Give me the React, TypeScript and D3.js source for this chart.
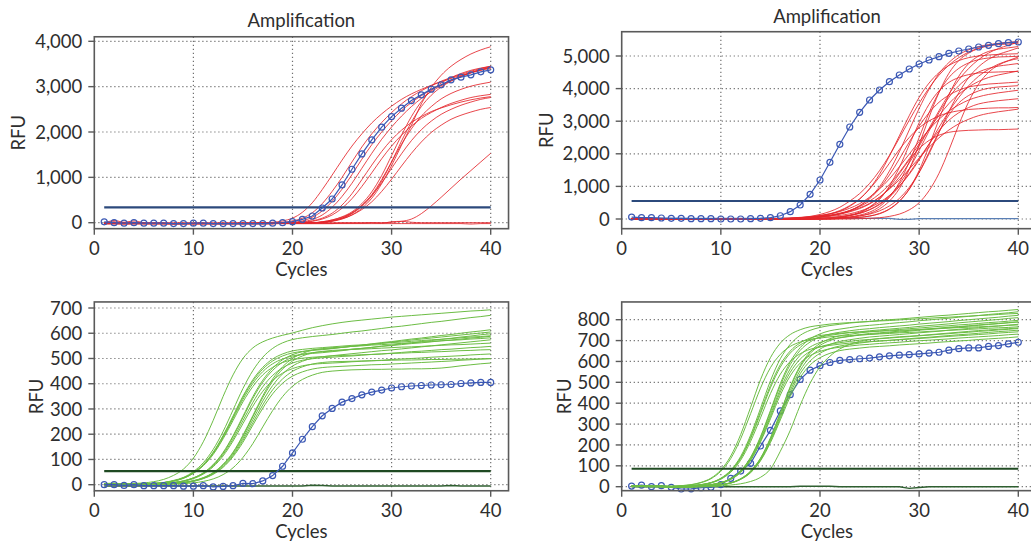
import * as d3 from "d3";

// ---- shared axis data ----
const cycles = [1, 2, 3, 4, 5, 6, 7, 8, 9, 10, 11, 12, 13, 14, 15, 16, 17, 18, 19, 20,
  21, 22, 23, 24, 25, 26, 27, 28, 29, 30, 31, 32, 33, 34, 35, 36, 37, 38, 39, 40];
const cycleTicks = [0, 10, 20, 30, 40];
const rfuTicksTL = [0, 1000, 2000, 3000, 4000];
const rfuTicksTR = [0, 1000, 2000, 3000, 4000, 5000];
const rfuTicksBL = [0, 100, 200, 300, 400, 500, 600, 700];
const rfuTicksBR = [0, 100, 200, 300, 400, 500, 600, 700, 800];
const thresholdTL = 340;
const thresholdTR = 552;
const thresholdBL = 54;
const thresholdBR = 86;
const titleText = "Amplification";

// ---- top left: red wells + blue control ----
const blueTL = [20, 0, -10, 0, -10, -10, -10, -20, -20, -10, -10, -20, -20, -20, -20, -20, -20, -10, 0, 22,
  75, 148, 324, 523, 832, 1179, 1517, 1826, 2106, 2340, 2525, 2693, 2819, 2945, 3040, 3150, 3210, 3260, 3327, 3370];
const redTL = [
  [-20, 50, 10, 40, 0, -10, -10, -20, -20, -10, -10, -20, -20, -10, -10, -10, 0, 10, 40, 100,
    230, 440, 730, 1050, 1380, 1690, 1960, 2200, 2400, 2570, 2720, 2840, 2940, 3030, 3110, 3180, 3250, 3310, 3370, 3420],
  [0, 20, 0, 10, -10, -10, -10, -20, -20, -20, -20, -20, -20, -20, -10, -10, 0, 0, 10, 40,
    100, 220, 420, 690, 1000, 1340, 1670, 1960, 2210, 2430, 2620, 2780, 2910, 3020, 3120, 3200, 3270, 3340, 3400, 3450],
  [-10, 10, -10, 0, -20, -20, -20, -20, -20, -20, -20, -20, -20, -20, -20, -10, -10, 0, 0, 10,
    40, 120, 260, 470, 740, 1060, 1400, 1720, 2000, 2250, 2470, 2650, 2800, 2930, 3040, 3140, 3230, 3310, 3370, 3430],
  [-10, 0, -10, 0, -10, -10, -20, -20, -20, -20, -20, -20, -20, -20, -20, -20, -10, -10, 0, 0,
    20, 70, 170, 340, 580, 870, 1200, 1530, 1840, 2110, 2350, 2560, 2740, 2890, 3020, 3130, 3230, 3310, 3380, 3440],
  [-20, -10, -10, -10, -20, -20, -20, -20, -20, -20, -20, -20, -20, -20, -20, -20, -20, -10, -10, 0,
    10, 40, 100, 210, 390, 640, 950, 1270, 1570, 1830, 2040, 2210, 2340, 2450, 2530, 2600, 2660, 2710, 2750, 2780],
  [-10, -10, -20, -20, -20, -20, -20, -20, -20, -20, -20, -20, -20, -20, -20, -20, -20, -20, -10, -10,
    0, 30, 80, 170, 320, 530, 800, 1100, 1410, 1690, 1930, 2130, 2300, 2430, 2540, 2630, 2700, 2760, 2800, 2830],
  [-20, -20, -20, -20, -20, -20, -20, -20, -20, -20, -20, -20, -20, -20, -20, -20, -20, -20, -10, -10,
    0, 0, 20, 60, 130, 240, 420, 680, 1040, 1480, 1930, 2340, 2670, 2910, 3080, 3200, 3290, 3360, 3410, 3450],
  [-20, -20, -20, -20, -20, -20, -20, -20, -20, -20, -20, -20, -20, -20, -20, -20, -20, -20, -10, -10,
    0, 0, 10, 40, 100, 200, 360, 590, 920, 1340, 1800, 2220, 2560, 2810, 2990, 3120, 3220, 3300, 3360, 3400],
  [-20, -20, -20, -20, -20, -20, -20, -20, -20, -20, -20, -20, -20, -20, -20, -20, -20, -20, -10, -10,
    0, 0, 10, 40, 100, 210, 380, 620, 950, 1340, 1730, 2070, 2350, 2560, 2730, 2850, 2940, 3010, 3060, 3100],
  [-20, -20, -20, -20, -20, -20, -20, -20, -20, -20, -20, -20, -20, -20, -20, -20, -20, -20, -10, -10,
    0, 0, 0, 30, 80, 170, 320, 540, 860, 1260, 1710, 2150, 2620, 2980, 3250, 3450, 3600, 3720, 3810, 3880],
  [-20, -20, -20, -20, -20, -20, -20, -20, -20, -20, -20, -20, -20, -20, -20, -20, -20, -20, -10, -10,
    0, 0, 20, 60, 120, 220, 380, 600, 880, 1200, 1520, 1810, 2050, 2240, 2390, 2500, 2590, 2660, 2720, 2760],
  [-20, -20, -20, -20, -20, -20, -20, -20, -20, -20, -20, -20, -20, -20, -20, -20, -20, -20, -10, -10,
    0, 0, 10, 40, 90, 170, 290, 460, 690, 960, 1250, 1530, 1780, 1990, 2150, 2280, 2370, 2440, 2500, 2540],
  [-20, -20, -20, -20, -20, -20, -20, -20, -20, -20, -20, -20, -20, -20, -20, -20, -20, -20, -20, -20,
    -20, -20, -20, -20, -10, -10, -10, 0, 0, 10, 30, 80, 200, 370, 560, 760, 960, 1150, 1340, 1530],
  [-20, -20, -30, -20, -20, -20, -20, -30, -20, -20, -20, -20, -20, -20, -20, -20, -20, -20, -20, -20,
    -20, -20, -20, -20, -20, -20, -20, -20, -20, -20, -20, -20, -20, -20, -20, -20, -20, -30, -20, -20],
  [0, 0, 0, 0, 0, 0, 0, 0, 0, 0, 0, 0, 0, 0, 0, 0, 0, 0, 0, 0,
    0, 0, 0, 0, 0, 0, 0, 0, -10, 20, 30, 10, 0, 0, 0, 0, 0, 0, 0, 0],
];

// ---- top right ----
const blueTR = [60, 40, 40, 30, 20, 20, 10, 10, 10, 0, 0, 0, 10, 20, 40, 100, 225, 430, 757, 1196,
  1739, 2291, 2822, 3273, 3650, 3957, 4212, 4417, 4601, 4755, 4877, 4980, 5082, 5153, 5215, 5276, 5328, 5378, 5408, 5429];
const ntcTR = [20, 20, 20, 20, 20, 20, 20, 20, 20, 20, 20, 20, 20, 20, 20, 20, 20, 20, 20, 20,
  20, 20, 20, 20, 20, 20, 20, -10, -10, 10, 10, 10, 10, 10, 10, 10, 10, 10, 10, 10];
const redTR = [
  [0, 0, 0, 0, 0, 0, 0, 0, 0, 0, 0, 0, 0, 0, 0, 10, 20, 40, 80, 140,
    230, 360, 550, 780, 1090, 1480, 1950, 2480, 3030, 3550, 4020, 4410, 4720, 4950, 5120, 5240, 5320, 5380, 5420, 5440],
  [0, 0, 0, 0, 0, 0, 0, 0, 0, 0, 0, 0, 0, 0, 0, 0, 10, 20, 40, 60,
    100, 160, 260, 410, 650, 990, 1470, 2060, 2730, 3390, 3980, 4460, 4800, 5040, 5190, 5290, 5350, 5390, 5410, 5430],
  [0, 0, 0, 0, 0, 0, 0, 0, 0, 0, 0, 0, 0, 0, 0, 0, 0, 0, 0, 0,
    10, 30, 50, 90, 170, 310, 550, 930, 1520, 2280, 3120, 3880, 4470, 4860, 5090, 5230, 5310, 5350, 5370, 5390],
  [0, 0, 0, 0, 0, 0, 0, 0, 0, 0, 0, 0, 0, 0, 0, 0, 10, 20, 40, 70,
    100, 150, 220, 320, 460, 660, 930, 1280, 1720, 2230, 2780, 3320, 3830, 4270, 4620, 4890, 5090, 5230, 5330, 5430],
  [0, 0, 0, 0, 0, 0, 0, 0, 0, 0, 0, 0, 0, 0, 0, 0, 0, 0, 0, 0,
    0, 10, 30, 50, 90, 160, 300, 540, 920, 1490, 2240, 3060, 3810, 4380, 4770, 5000, 5140, 5210, 5250, 5290],
  [0, 0, 0, 0, 0, 0, 0, 0, 0, 0, 0, 0, 0, 0, 0, 0, 0, 0, 0, 10,
    20, 40, 60, 100, 150, 250, 400, 630, 970, 1430, 2000, 2650, 3300, 3870, 4340, 4670, 4900, 5050, 5150, 5250],
  [0, 0, 0, 0, 0, 0, 0, 0, 0, 0, 0, 0, 0, 0, 0, 10, 20, 30, 60, 90,
    150, 240, 390, 610, 930, 1370, 1930, 2550, 3170, 3730, 4170, 4490, 4710, 4860, 4950, 5000, 5030, 5050, 5060, 5070],
  [0, 0, 0, 0, 0, 0, 0, 0, 0, 0, 0, 0, 0, 0, 0, 0, 0, 0, 0, 0,
    20, 30, 60, 120, 210, 380, 670, 1120, 1750, 2500, 3260, 3890, 4340, 4620, 4790, 4890, 4940, 4970, 4980, 4990],
  [0, 0, 0, 0, 0, 0, 0, 0, 0, 0, 0, 0, 0, 0, 0, 0, 10, 20, 30, 50,
    80, 110, 160, 240, 350, 510, 720, 1010, 1370, 1810, 2300, 2810, 3300, 3730, 4090, 4380, 4590, 4750, 4860, 4970],
  [0, 0, 0, 0, 0, 0, 0, 0, 0, 0, 0, 0, 0, 0, 0, 0, 0, 0, 10, 20,
    40, 70, 110, 180, 290, 460, 710, 1070, 1540, 2100, 2700, 3260, 3730, 4090, 4340, 4510, 4620, 4690, 4730, 4770],
  [0, 0, 0, 0, 0, 0, 0, 0, 0, 0, 0, 0, 0, 0, 0, 0, 0, 0, 0, 20,
    30, 50, 100, 190, 350, 600, 1010, 1580, 2270, 2950, 3520, 3930, 4190, 4340, 4430, 4480, 4500, 4510, 4520, 4530],
  [0, 0, 0, 0, 0, 0, 0, 0, 0, 0, 0, 0, 0, 0, 0, 0, 20, 30, 50, 80,
    120, 180, 260, 380, 550, 770, 1060, 1430, 1850, 2300, 2760, 3170, 3540, 3830, 4050, 4220, 4340, 4420, 4480, 4540],
  [0, 0, 0, 0, 0, 0, 0, 0, 0, 0, 0, 0, 0, 0, 0, 0, 10, 20, 40, 60,
    100, 160, 250, 400, 620, 940, 1350, 1840, 2360, 2850, 3260, 3580, 3800, 3950, 4050, 4100, 4140, 4160, 4180, 4200],
  [0, 0, 0, 0, 0, 0, 0, 0, 0, 0, 0, 0, 0, 0, 0, 0, 0, 0, 0, 0,
    0, 20, 30, 50, 90, 170, 310, 550, 910, 1430, 2050, 2670, 3190, 3560, 3790, 3930, 4010, 4050, 4070, 4090],
  [0, 0, 0, 0, 0, 0, 0, 0, 0, 0, 0, 0, 0, 0, 0, 20, 30, 50, 70, 110,
    160, 230, 330, 470, 670, 920, 1230, 1600, 1990, 2380, 2740, 3060, 3310, 3500, 3650, 3750, 3820, 3870, 3910, 3950],
  [0, 0, 0, 0, 0, 0, 0, 0, 0, 0, 0, 0, 0, 0, 0, 0, 0, 0, 10, 20,
    40, 70, 110, 170, 280, 440, 670, 1000, 1400, 1850, 2300, 2710, 3030, 3260, 3420, 3530, 3590, 3630, 3660, 3690],
  [0, 0, 0, 0, 0, 0, 0, 0, 0, 0, 0, 0, 0, 0, 10, 20, 20, 40, 60, 100,
    160, 260, 410, 620, 920, 1290, 1710, 2130, 2500, 2800, 3010, 3160, 3260, 3320, 3360, 3380, 3400, 3410, 3410, 3420],
  [0, 0, 0, 0, 0, 0, 0, 0, 0, 0, 0, 0, 0, 0, 0, 0, 20, 30, 50, 80,
    110, 160, 240, 340, 480, 670, 920, 1200, 1530, 1870, 2200, 2490, 2730, 2920, 3060, 3170, 3240, 3290, 3330, 3370],
  [0, 0, 0, 0, 0, 0, 0, 0, 0, 0, 0, 0, 0, 0, 0, 0, 0, 0, 10, 20,
    30, 60, 120, 210, 370, 620, 970, 1390, 1810, 2160, 2410, 2570, 2660, 2700, 2720, 2730, 2740, 2740, 2750, 2760],
  [0, 0, 0, 0, 0, 0, 0, 0, 0, 0, 0, 0, 0, 0, 0, 0, 0, 0, 0, 0,
    0, 0, 0, 10, 20, 40, 80, 150, 280, 500, 870, 1400, 2110, 2890, 3600, 4140, 4500, 4720, 4850, 4920],
];

// ---- bottom left: green wells ----
const blueBL = [0, 0, -3, 0, -4, -4, -4, -4, -6, -6, -4, -9, -7, -4, 5, 4, 15, 36, 73, 126,
  180, 230, 273, 302, 327, 341, 356, 367, 375, 383, 388, 391, 393, 395, 396, 397, 401, 403, 405, 405];
const ntcBL = [-5, -5, -5, -5, -5, -5, -5, -5, -5, -5, -5, -5, -5, -5, -5, -5, -5, -5, -5, -5,
  -5, -2, -3, -5, -5, -5, -5, -5, -5, -5, -5, -5, -5, -5, -5, -3, -5, -5, -5, -5];
const greenBL = [
  [4, 6, 3, 5, 7, 12, 21, 37, 62, 105, 170, 255, 350, 435, 500, 542, 566, 581, 592, 601,
    612, 622, 630, 637, 643, 648, 652, 656, 660, 664, 667, 670, 673, 676, 679, 682, 685, 688, 690, 693],
  [2, 5, 4, 3, 4, 5, 9, 17, 29, 52, 87, 140, 211, 296, 381, 452, 505, 540, 562, 575,
    582, 587, 591, 595, 600, 605, 609, 614, 619, 624, 628, 633, 638, 643, 647, 652, 657, 662, 666, 671],
  [3, 2, 4, 1, 3, 5, 8, 15, 27, 47, 79, 127, 192, 268, 346, 410, 458, 490, 510, 522,
    528, 532, 535, 539, 544, 548, 553, 558, 563, 567, 572, 577, 581, 586, 591, 595, 600, 605, 609, 614],
  [1, 3, 2, 4, 2, 3, 5, 9, 15, 27, 47, 80, 128, 194, 271, 349, 414, 462, 495, 515,
    527, 534, 537, 540, 544, 548, 552, 556, 560, 565, 569, 573, 577, 581, 585, 589, 593, 597, 601, 605],
  [4, 3, 1, 2, 3, 5, 8, 15, 26, 46, 77, 124, 187, 262, 338, 401, 448, 479, 498, 510,
    516, 520, 523, 527, 531, 536, 540, 544, 549, 553, 558, 562, 567, 571, 576, 580, 585, 589, 594, 598],
  [2, 1, 3, 0, 2, 3, 5, 9, 15, 27, 46, 78, 125, 190, 266, 342, 406, 453, 485, 505,
    517, 523, 527, 529, 533, 537, 540, 544, 548, 551, 555, 559, 562, 566, 570, 573, 577, 581, 584, 588],
  [3, 2, 1, 2, 0, 1, 3, 5, 9, 16, 28, 48, 81, 129, 196, 274, 352, 419, 467, 500,
    520, 533, 539, 543, 545, 548, 550, 553, 555, 557, 560, 562, 565, 567, 570, 572, 574, 577, 579, 582],
  [5, 3, 2, 3, 2, 4, 8, 14, 25, 45, 75, 120, 182, 254, 328, 389, 435, 465, 484, 495,
    501, 505, 507, 511, 515, 519, 523, 527, 531, 534, 538, 542, 546, 550, 554, 558, 562, 566, 570, 574],
  [2, 4, 2, 1, 1, 2, 3, 5, 9, 15, 27, 47, 79, 126, 192, 269, 345, 410, 458, 490,
    510, 522, 528, 532, 534, 536, 537, 539, 541, 543, 545, 546, 548, 550, 552, 554, 555, 557, 559, 561],
  [3, 1, 2, 2, 1, 2, 4, 8, 14, 26, 44, 75, 120, 181, 254, 326, 388, 433, 463, 482,
    493, 499, 503, 505, 508, 510, 513, 516, 518, 521, 524, 527, 529, 532, 535, 537, 540, 543, 545, 548],
  [1, 2, 3, 1, 2, 1, 2, 5, 8, 15, 26, 45, 76, 121, 184, 258, 331, 393, 439, 470,
    489, 501, 507, 510, 512, 513, 515, 516, 518, 520, 521, 523, 524, 526, 527, 529, 531, 532, 534, 535],
  [2, 2, 1, 0, 1, 2, 4, 8, 13, 24, 42, 71, 114, 173, 242, 311, 370, 413, 442, 460,
    471, 477, 480, 482, 484, 487, 489, 491, 493, 496, 498, 500, 502, 505, 507, 509, 511, 514, 516, 518],
  [1, 0, 2, 1, 0, 1, 2, 4, 8, 14, 25, 43, 72, 116, 176, 246, 316, 376, 419, 449,
    467, 478, 484, 487, 488, 489, 490, 491, 492, 493, 494, 494, 495, 496, 496, 497, 497, 498, 498, 499],
  [0, 1, 0, 2, 1, 0, 1, 2, 4, 7, 13, 23, 40, 67, 108, 163, 229, 294, 349, 390,
    417, 434, 445, 450, 453, 455, 456, 457, 457, 458, 458, 459, 459, 460, 462, 466, 471, 475, 479, 482],
  [2, 1, 0, 1, 2, 1, 2, 4, 8, 13, 24, 41, 69, 111, 168, 236, 303, 360, 402, 430,
    447, 458, 464, 467, 469, 471, 473, 475, 476, 478, 480, 482, 484, 486, 488, 490, 493, 495, 498, 500],
  [3, 4, 2, 3, 2, 5, 8, 15, 27, 48, 80, 129, 195, 272, 351, 416, 465, 498, 518, 530,
    536, 540, 543, 546, 549, 552, 554, 557, 560, 563, 565, 568, 571, 574, 576, 579, 582, 585, 587, 590],
];

// ---- bottom right ----
const blueBR = [3, 8, 0, 5, -3, -11, -10, -5, -3, 10, 40, 75, 112, 195, 270, 363, 441, 514, 558, 580,
  595, 605, 609, 613, 616, 622, 627, 630, 633, 636, 640, 644, 654, 661, 665, 665, 672, 676, 684, 692];
const ntcBR = [0, 0, 0, 0, 0, 0, 0, 0, 0, 0, 0, 0, 0, 0, 0, 0, 0, 2, 2, 2,
  2, 0, 0, 0, 0, 0, 0, 0, -8, -4, 0, 0, 0, 0, 0, 0, 0, 0, 0, 0];
const greenBR = [
  [2, 5, 3, 4, 1, 2, 5, 10, 20, 41, 79, 145, 247, 375, 507, 613, 682, 725, 749, 763,
    772, 778, 784, 788, 792, 796, 800, 803, 807, 811, 815, 819, 822, 826, 830, 834, 838, 841, 845, 849],
  [3, 1, 4, 2, 0, 1, 2, 5, 10, 20, 39, 77, 141, 240, 365, 494, 598, 666, 708, 732,
    747, 755, 762, 769, 773, 777, 782, 786, 790, 795, 799, 803, 807, 812, 816, 820, 825, 829, 833, 838],
  [1, 3, 0, 2, -2, 0, 2, 5, 10, 19, 39, 75, 138, 235, 358, 484, 585, 653, 693, 717,
    731, 740, 747, 753, 757, 762, 766, 770, 774, 779, 783, 787, 791, 796, 800, 804, 808, 812, 817, 821],
  [4, 2, 1, 3, 0, 2, 5, 9, 19, 38, 74, 135, 230, 350, 474, 573, 640, 679, 702, 716,
    725, 732, 738, 742, 747, 751, 755, 759, 763, 768, 772, 776, 780, 785, 789, 793, 797, 801, 806, 810],
  [2, 0, 3, 1, -1, -2, 0, 2, 5, 10, 19, 38, 75, 137, 234, 355, 480, 580, 646, 686,
    709, 723, 730, 737, 742, 746, 750, 753, 757, 760, 764, 768, 771, 775, 778, 782, 786, 789, 793, 797],
  [3, 2, 1, 2, -1, -1, 2, 5, 9, 19, 37, 72, 133, 227, 345, 467, 565, 630, 669, 691,
    705, 713, 720, 726, 730, 734, 738, 741, 745, 750, 753, 757, 761, 765, 769, 773, 777, 781, 785, 789],
  [1, 3, 2, 0, -2, -3, -1, 2, 5, 9, 18, 37, 71, 131, 224, 340, 460, 557, 621, 659,
    682, 696, 704, 711, 717, 721, 725, 729, 733, 737, 741, 745, 750, 754, 758, 762, 766, 770, 774, 778],
  [4, 3, 2, 3, 2, 5, 9, 19, 38, 74, 135, 230, 350, 472, 570, 634, 672, 693, 706, 712,
    718, 722, 724, 727, 729, 732, 734, 737, 739, 741, 744, 746, 749, 751, 754, 756, 759, 761, 763, 766],
  [2, 1, 0, 2, -1, 0, 2, 5, 9, 18, 36, 70, 129, 220, 335, 454, 548, 611, 648, 670,
    682, 690, 696, 702, 705, 709, 712, 716, 719, 723, 726, 730, 733, 737, 740, 744, 747, 751, 754, 758],
  [0, 2, 1, -1, -2, -2, 0, 2, 4, 9, 18, 36, 69, 127, 217, 330, 447, 541, 602, 639,
    661, 674, 681, 688, 694, 698, 701, 705, 709, 713, 716, 720, 724, 728, 731, 735, 739, 743, 746, 750],
  [3, 3, 1, 2, 0, 2, 4, 9, 18, 36, 69, 127, 217, 330, 446, 539, 600, 637, 658, 670,
    677, 683, 688, 692, 695, 698, 701, 704, 707, 710, 713, 717, 720, 723, 726, 729, 732, 736, 739, 742],
  [1, 2, 2, 0, -1, 1, 2, 4, 9, 18, 35, 68, 125, 214, 325, 439, 531, 592, 628, 648,
    661, 668, 674, 679, 682, 686, 689, 692, 696, 699, 702, 705, 708, 712, 715, 718, 721, 724, 728, 731],
  [2, 1, 0, 1, -2, -3, -1, 2, 4, 9, 17, 35, 67, 124, 211, 320, 432, 523, 583, 618,
    639, 652, 659, 664, 669, 672, 675, 679, 682, 685, 688, 692, 695, 698, 701, 705, 708, 711, 714, 718],
  [3, 5, 4, 2, 3, 5, 10, 21, 41, 80, 147, 250, 380, 513, 618, 688, 729, 752, 766, 773,
    779, 783, 786, 789, 791, 794, 796, 799, 802, 804, 807, 810, 812, 815, 817, 820, 822, 825, 828, 830],
  [1, 0, 2, 1, -1, -2, 0, 2, 5, 9, 19, 38, 74, 135, 230, 350, 474, 573, 638, 677,
    700, 714, 721, 728, 734, 737, 741, 745, 749, 752, 756, 760, 764, 767, 771, 775, 779, 782, 786, 790],
  [2, 4, 3, 1, 1, 2, 5, 10, 19, 39, 76, 139, 237, 360, 485, 585, 650, 689, 712, 724,
    730, 735, 739, 741, 743, 745, 747, 749, 751, 753, 756, 758, 760, 762, 764, 766, 768, 770, 773, 775],
  [0, 1, 0, -1, -2, -3, -2, -1, 0, 3, 8, 14, 25, 45, 85, 170, 270, 390, 495, 575,
    625, 660, 682, 696, 704, 710, 714, 718, 721, 724, 728, 732, 736, 740, 744, 748, 751, 754, 757, 760],
];

const FONT = "Lato, 'Open Sans', sans-serif";
const TEXT = "#2e2e2e";
const BLUE = "#3b58b4";
const FS = 18.5;

type PanelCfg = {
  px0: number; px40: number; xMax: number;
  pyZero: number; pyTick: number; tickVal: number; yMin: number; yMax: number;
  yTicks: number[];
  curves: number[][]; curveColor: string; curveOpacity: number;
  blue: number[]; blueOnTop: boolean;
  ntc?: number[]; ntcColor?: string;
  threshold: number; thresholdColor: string;
  titleY?: number; rfuX: number;
};

function Panel({ c }: { c: PanelCfg }) {
  const x = d3.scaleLinear().domain([0, 40]).range([c.px0, c.px40]);
  const y = d3.scaleLinear().domain([0, c.tickVal]).range([c.pyZero, c.pyTick]);
  const left = x(0), right = x(c.xMax), top = y(c.yMax), bottom = y(c.yMin);
  const smooth = d3.line<number>().x((_, i) => x(cycles[i])).y(v => y(v)).curve(d3.curveMonotoneX);
  const straight = d3.line<number>().x((_, i) => x(cycles[i])).y(v => y(v));
  const fmt = d3.format(",");
  const midX = (left + right) / 2;
  const midY = (top + bottom) / 2;

  const blueLayer = (
    <g>
      <path d={straight(c.blue) || ""} fill="none" stroke={BLUE} strokeWidth={1.2} />
      {c.blue.map((v, i) => (
        <circle key={i} cx={x(cycles[i])} cy={y(v)} r={3} fill="none" stroke={BLUE} strokeWidth={1.2} />
      ))}
    </g>
  );

  return (
    <g>
      {c.yTicks.map(t => (
        <line key={"gy" + t} x1={left} x2={right} y1={y(t)} y2={y(t)}
          stroke="#707070" strokeWidth={1.2} strokeDasharray="1.2 2.8" />
      ))}
      {cycleTicks.filter(t => t > 0).map(t => (
        <line key={"gx" + t} x1={x(t)} x2={x(t)} y1={top} y2={bottom}
          stroke="#707070" strokeWidth={1.2} strokeDasharray="1.2 2.8" />
      ))}
      {c.ntc && <path d={straight(c.ntc) || ""} fill="none" stroke={c.ntcColor} strokeWidth={1.4} />}
      {!c.blueOnTop && blueLayer}
      {c.curves.map((s, i) => (
        <path key={i} d={smooth(s) || ""} fill="none" stroke={c.curveColor}
          strokeWidth={1} strokeOpacity={c.curveOpacity} />
      ))}
      <line x1={x(1)} x2={x(40)} y1={y(c.threshold)} y2={y(c.threshold)}
        stroke={c.thresholdColor} strokeWidth={2.2} />
      {c.blueOnTop && blueLayer}
      <rect x={left} y={top} width={right - left} height={bottom - top}
        fill="none" stroke="#5a5a5a" strokeWidth={1.6} />
      {c.yTicks.map(t => (
        <g key={"ty" + t}>
          <line x1={left - 6} x2={left} y1={y(t)} y2={y(t)} stroke="#5a5a5a" strokeWidth={1.4} />
          <text x={left - 12} y={y(t)} dy="0.36em" textAnchor="end" fontSize={FS}
            fontFamily={FONT} fill={TEXT}>{fmt(t)}</text>
        </g>
      ))}
      {cycleTicks.map(t => (
        <g key={"tx" + t}>
          <line x1={x(t)} x2={x(t)} y1={bottom} y2={bottom + 6} stroke="#5a5a5a" strokeWidth={1.4} />
          <text x={x(t)} y={bottom + 26.5} textAnchor="middle" fontSize={FS}
            fontFamily={FONT} fill={TEXT}>{t}</text>
        </g>
      ))}
      {c.titleY !== undefined && (
        <text x={midX} y={c.titleY} textAnchor="middle" fontSize={FS} fontFamily={FONT} fill={TEXT}>
          {titleText}
        </text>
      )}
      <text x={midX} y={bottom + 47.5} textAnchor="middle" fontSize={FS} fontFamily={FONT} fill={TEXT}>Cycles</text>
      <text transform={`translate(${c.rfuX},${midY}) rotate(-90)`} textAnchor="middle"
        fontSize={FS} fontFamily={FONT} fill={TEXT}>RFU</text>
    </g>
  );
}

const panels: PanelCfg[] = [
  {
    px0: 94.3, px40: 490.7, xMax: 41.8, pyZero: 222.7, pyTick: 41.3, tickVal: 4000, yMin: -132, yMax: 4100,
    yTicks: rfuTicksTL, curves: redTL, curveColor: "#e4262b", curveOpacity: 0.85,
    blue: blueTL, blueOnTop: true, threshold: thresholdTL, thresholdColor: "#2c4a7c",
    titleY: 26.5, rfuX: 24.5,
  },
  {
    px0: 621.7, px40: 1018.3, xMax: 41.4, pyZero: 219, pyTick: 56, tickVal: 5000, yMin: -297, yMax: 5745,
    yTicks: rfuTicksTR, curves: redTR, curveColor: "#e4262b", curveOpacity: 0.85,
    blue: blueTR, blueOnTop: true, ntc: ntcTR, ntcColor: "#5a7fb5",
    threshold: thresholdTR, thresholdColor: "#2c4a7c", titleY: 23, rfuX: 553,
  },
  {
    px0: 94.3, px40: 490.7, xMax: 41.8, pyZero: 484.7, pyTick: 308, tickVal: 700, yMin: -24, yMax: 724,
    yTicks: rfuTicksBL, curves: greenBL, curveColor: "#6cbd44", curveOpacity: 1,
    blue: blueBL, blueOnTop: true, ntc: ntcBL, ntcColor: "#2f5f30",
    threshold: thresholdBL, thresholdColor: "#1f4a22", rfuX: 42.5,
  },
  {
    px0: 621.7, px40: 1018.3, xMax: 41.4, pyZero: 486.7, pyTick: 319.7, tickVal: 800, yMin: -19, yMax: 885,
    yTicks: rfuTicksBR, curves: greenBR, curveColor: "#6cbd44", curveOpacity: 1,
    blue: blueBR, blueOnTop: false, ntc: ntcBR, ntcColor: "#2f5f30",
    threshold: thresholdBR, thresholdColor: "#1f4a22", rfuX: 571,
  },
];

export default function App() {
  return (
    <svg width={1031} height={544} viewBox="0 0 1031 544"
      style={{ position: "absolute", left: 0, top: 0, background: "#fff" }}>
      {panels.map((p, i) => <Panel key={i} c={p} />)}
    </svg>
  );
}
